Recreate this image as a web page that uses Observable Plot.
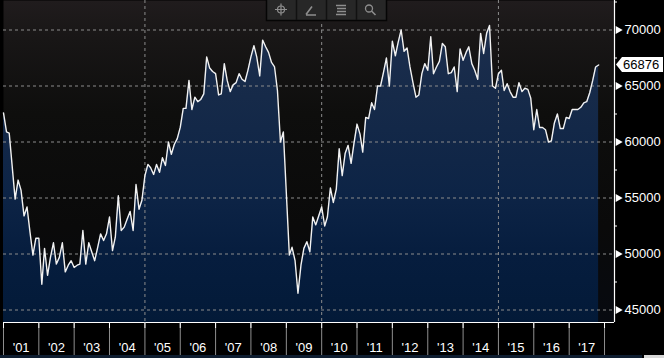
<!DOCTYPE html>
<html><head><meta charset="utf-8">
<script src="https://cdn.jsdelivr.net/npm/d3@7"></script>
<script src="https://cdn.jsdelivr.net/npm/@observablehq/plot@0.6"></script>
<style>
html,body{margin:0;padding:0;background:#000;}
#chart{width:664px;height:358px;overflow:hidden;position:relative;}
svg{display:block;}
</style></head><body><div id="chart"></div>
<script>
// ---- data (monthly, starting Jan 2001) ----
const startYear = 2001;
const v2001 = [62600, 60900, 60800, 57800, 54900, 56600, 55700, 53400, 54200, 52000, 49900, 51400];
const v2002 = [51400, 47300, 50500, 48100, 49700, 51000, 49100, 49700, 51000, 48400, 49000, 49400];
const v2003 = [48800, 49000, 49100, 52100, 49100, 51000, 50200, 49400, 50600, 51800, 51200, 51800];
const v2004 = [53300, 50300, 51500, 55200, 52100, 52400, 53100, 53800, 52100, 56200, 54000, 54800];
const v2005 = [57000, 58000, 57700, 57100, 58000, 57300, 58600, 57900, 60000, 58900, 59800, 60300];
const v2006 = [61300, 63000, 63000, 65500, 62900, 64000, 63600, 63800, 64300, 67600, 66600, 66300];
const v2007 = [66100, 64200, 64300, 67000, 65500, 64500, 65100, 65300, 66100, 65600, 65400, 66400];
const v2008 = [67600, 68600, 67600, 65900, 69100, 68500, 68000, 67100, 66700, 64600, 60000, 60900];
const v2009 = [55400, 49900, 50600, 49400, 46500, 49000, 50500, 51100, 50200, 53300, 52600, 53400];
const v2010 = [54200, 52500, 53300, 55900, 54600, 55800, 59400, 57000, 59000, 59700, 58100, 59900];
const v2011 = [61600, 60700, 59100, 62200, 62100, 63500, 62900, 65000, 65000, 66200, 67500, 65000];
const v2012 = [69000, 67700, 68900, 70000, 68100, 68400, 66700, 65300, 64000, 64200, 66100, 67000];
const v2013 = [66400, 69400, 66100, 66700, 67200, 68800, 68500, 66100, 66200, 66700, 64500, 68300];
const v2014 = [67300, 68000, 68500, 67000, 66400, 65600, 69700, 67900, 69700, 70400, 65000, 64800];
const v2015 = [66100, 66400, 64600, 65200, 64500, 64000, 64000, 65300, 64500, 64800, 64700, 63900];
const v2016 = [61100, 62900, 61300, 61300, 61100, 60000, 60100, 61700, 62500, 61200, 61200, 62200];
const v2017 = [62100, 62900, 62900, 62900, 63100, 63500, 63600, 64400, 65500, 66700, 66876];
const series = [v2001, v2002, v2003, v2004, v2005, v2006, v2007, v2008, v2009, v2010, v2011, v2012, v2013, v2014, v2015, v2016, v2017];

const yTicks = [45000, 50000, 55000, 60000, 65000, 70000];
const yMinorTicks = [47500, 52500, 57500, 62500, 67500, 72500];
const yearLabels = ["'01","'02","'03","'04","'05","'06","'07","'08","'09","'10","'11","'12","'13","'14","'15","'16","'17"];
const gridYears = [2005, 2010, 2015];
const lastValueLabel = "66876";

// ---- build ----
const data = series.flatMap((arr, yi) => arr.map((v, mi) => ({date: new Date(Date.UTC(startYear + yi, mi, 1)), value: v})));
const lastValue = data[data.length - 1].value;
const yearStarts = d3.range(startYear, startYear + yearLabels.length + 1).map(y => new Date(Date.UTC(y, 0, 1)));
const yearMids = yearLabels.map((l, i) => new Date(Date.UTC(startYear + i, 6, 2)));
const gridDates = gridYears.map(y => new Date(Date.UTC(y, 0, 1)));
const yDomain = [43884, 72634];
const xDomain = [new Date(Date.UTC(2001, 0, 1)), new Date(Date.UTC(2018, 3, 14))];
const FONT = "'Liberation Sans', Arial, sans-serif";
const GRID = "#8c8c8c";

const chart = Plot.plot({
  width: 664, height: 358,
  marginLeft: 3, marginRight: 50, marginTop: 0, marginBottom: 36,
  style: {background: "#000", color: "#fff", fontFamily: FONT, fontSize: "13px", overflow: "visible"},
  x: {type: "utc", domain: xDomain},
  y: {domain: yDomain},
  marks: [
    Plot.frame({fill: "url(#bgGrad)", stroke: "none"}),
    Plot.areaY(data, {x: "date", y1: yDomain[0], y2: "value", fill: "url(#areaGrad)"}),
    Plot.ruleY(yTicks, {y: d => d, stroke: GRID, strokeWidth: 1, strokeDasharray: "3 3"}),
    Plot.ruleX(gridDates, {x: d => d, stroke: GRID, strokeWidth: 1, strokeDasharray: "3 3"}),
    Plot.lineY(data, {x: "date", y: "value", stroke: "#f2f2f2", strokeWidth: 1.4}),
    Plot.ruleX([xDomain[1]], {stroke: "#fff", strokeWidth: 1.2}),
    Plot.ruleY([yDomain[0]], {stroke: "#fff", strokeWidth: 1.2}),
    Plot.ruleY(yMinorTicks, {x1: xDomain[1], x2: xDomain[1], insetRight: -3, stroke: "#fff"}),
    Plot.dot(yTicks, {x: xDomain[1], y: d => d, symbol: "triangle", rotate: 90, r: 3, dx: 3.5, fill: "#fff", stroke: "none"}),
    Plot.axisY(yTicks, {anchor: "right", tickSize: 0, tickPadding: 10, tickFormat: d3.format("d"), fill: "#fff", fontSize: 13, label: null}),
    Plot.axisX(yearStarts, {anchor: "bottom", tickSize: 33, tickFormat: () => "", stroke: "#8e8e8e", label: null}),
    Plot.axisX(yearStarts, {anchor: "bottom", tickSize: 6, tickFormat: () => "", stroke: "#fff", label: null}),
    Plot.axisX(yearMids, {anchor: "bottom", tickSize: 0, tickPadding: 20, tickFormat: (d, i) => yearLabels[i], fill: "#fff", fontSize: 13, label: null})
  ]
});

const svg = d3.select(chart);
const defs = svg.insert("defs", ":first-child");
const bg = defs.append("linearGradient").attr("id", "bgGrad").attr("gradientUnits", "userSpaceOnUse")
  .attr("x1", 0).attr("y1", 0).attr("x2", 0).attr("y2", 322);
[[0, "#201c1d"], [0.12, "#181616"], [0.35, "#0e0e0d"], [0.7, "#0a0a0a"], [1, "#070a10"]]
  .forEach(([o, c]) => bg.append("stop").attr("offset", o).attr("stop-color", c));
const ag = defs.append("linearGradient").attr("id", "areaGrad").attr("gradientUnits", "userSpaceOnUse")
  .attr("x1", 0).attr("y1", 0).attr("x2", 0).attr("y2", 322);
[[0, "#1e3050"], [0.3, "#162a49"], [0.6, "#0d2446"], [0.8, "#061d3e"], [1, "#031a38"]]
  .forEach(([o, c]) => ag.append("stop").attr("offset", o).attr("stop-color", c));

// last value tag
const ys = chart.scale("y"), xs = chart.scale("x");
const yPix = ys.apply(lastValue);
const xRight = xs.apply(xDomain[1]);
const tag = svg.append("g");
tag.append("path").attr("d", `M${xRight + 2},${yPix} L${xRight + 8},${yPix - 7.5} L663,${yPix - 7.5} L663,${yPix + 7.5} L${xRight + 8},${yPix + 7.5} Z`)
  .attr("fill", "#fff");
tag.append("text").attr("x", xRight + 9).attr("y", yPix).attr("dy", "0.36em").attr("fill", "#000")
  .attr("text-anchor", "start").attr("font-size", 13).attr("font-family", FONT).text(lastValueLabel);

// toolbar chrome
const tb = svg.append("g");
tb.append("rect").attr("x", 266.5).attr("y", -1).attr("width", 120).attr("height", 21.5).attr("fill", "#272727").attr("stroke", "#050505").attr("stroke-width", 1.5);
[296.5, 326.5, 356.5].forEach(x => tb.append("line").attr("x1", x).attr("x2", x).attr("y1", 0).attr("y2", 20).attr("stroke", "#111").attr("stroke-width", 1.5));
const ic = "#8e8e8e";
tb.append("circle").attr("cx", 281).attr("cy", 9.5).attr("r", 3.5).attr("fill", "none").attr("stroke", ic).attr("stroke-width", 1.2);
tb.append("path").attr("d", "M281,3.5V15.5M275,9.5H287").attr("stroke", ic).attr("stroke-width", 1.2);
tb.append("path").attr("d", "M306,14.5L312,6.5M306,15H316").attr("stroke", ic).attr("stroke-width", 1.6).attr("fill", "none");
tb.append("path").attr("d", "M336,5.5H346M337,8.5H346M337,11.5H346M336,14.5H346").attr("stroke", ic).attr("stroke-width", 1.3);
tb.append("circle").attr("cx", 369).attr("cy", 8.5).attr("r", 3.5).attr("fill", "none").attr("stroke", ic).attr("stroke-width", 1.3);
tb.append("path").attr("d", "M371.5,11L375.5,15").attr("stroke", ic).attr("stroke-width", 1.6);

// bottom strip
svg.append("rect").attr("x", 0).attr("y", 355).attr("width", 642).attr("height", 3).attr("fill", "#0e1d30");
svg.append("rect").attr("x", 644).attr("y", 355).attr("width", 20).attr("height", 3).attr("fill", "#d8d8d8");

document.getElementById("chart").appendChild(chart);
</script>
</body></html>
